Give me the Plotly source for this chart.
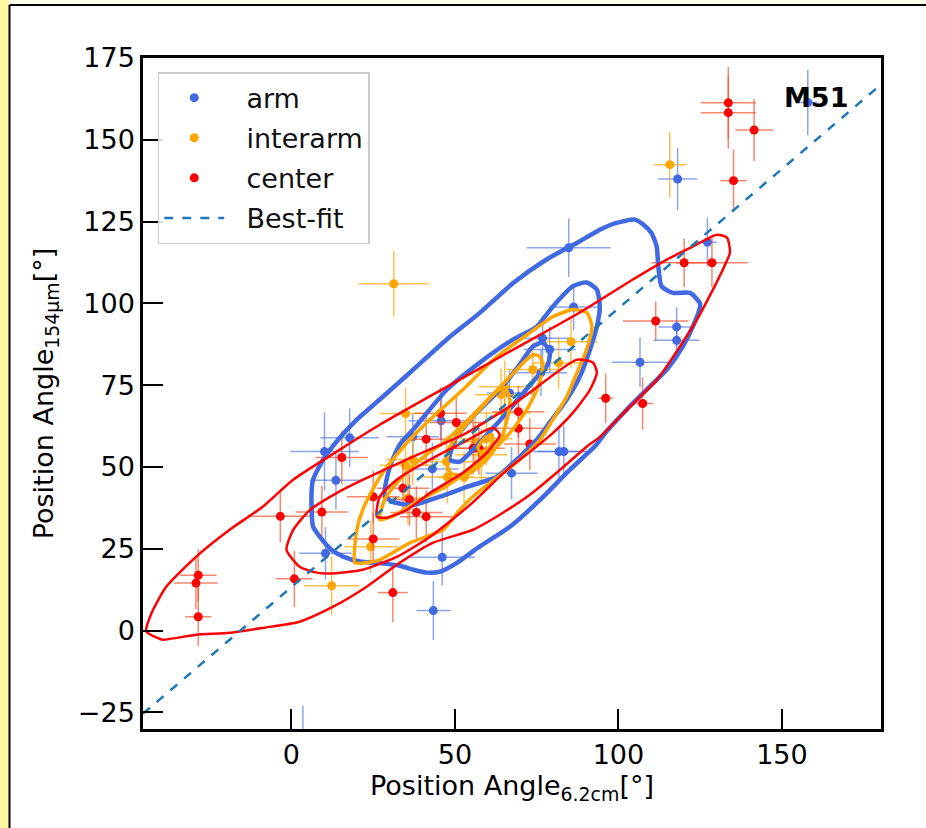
import plotly.graph_objects as go

# ---------------- data ----------------
arm_x = [157.9, 118.1, 127.2, 117.8, 117.8, 106.6, 84.8, 86.3, 76.8, 79.0, 76.3, 66.7, 45.8, 37.1, 10.1, 17.8, 13.6, 43.1, 67.3, 81.8, 83.3, 10.4, 46.1, 43.4, 3.5]
arm_y = [161.4, 138.0, 118.7, 92.8, 88.7, 82.0, 117.0, 98.9, 89.3, 85.9, 78.8, 72.6, 64.1, 59.2, 54.7, 58.9, 45.9, 49.4, 48.1, 54.7, 54.7, 23.6, 22.4, 6.1, -40.0]
arm_xerr = [3, 6, 3, 5.6, 7, 8.7, 12.8, 7.6, 8, 8, 8, 7, 10, 8, 10.5, 9, 8, 8, 8, 8, 8, 8, 10, 5.2, 3]
arm_yerr = [10, 9.5, 7.4, 6, 6, 7.6, 9, 7, 7, 7, 7, 7, 8, 7, 12, 9, 9, 8, 8, 8, 8, 8, 8.6, 9, 17]

inter_x = [115.7, 31.3, 85.5, 81.7, 73.8, 65.2, 64.1, 65.2, 34.9, 59.6, 56.2, 58.1, 47.4, 47.7, 52.8, 34.9, 37.1, 35.6, 24.2, 12.3]
inter_y = [142.4, 106.0, 88.3, 81.8, 79.8, 74.5, 72.1, 66.5, 66.3, 58.6, 57.7, 53.7, 51.6, 46.9, 46.8, 50.5, 52.3, 40.5, 25.6, 13.7]
inter_xerr = [5, 10.7, 8, 8, 8, 8, 8, 8, 8, 8, 8, 8, 8, 8, 8, 8, 8, 8, 8, 8.4]
inter_yerr = [10, 10, 8, 8, 8, 8, 8, 8, 8, 8, 8, 8, 8, 8, 8, 8, 8, 8, 8, 9]

cen_x = [133.6, 133.6, 141.5, 135.2, 120.1, 128.6, 111.4, 96.1, 107.4, 69.4, 69.4, 72.9, 45.6, 50.4, 41.2, 15.4, 55.6, 57.3, 34.1, 36.1, 38.2, 41.2, 25.0, 9.3, -3.4, 25.0, 0.9, 31.0, -28.5, -29.2, -28.5]
cen_y = [161.3, 158.3, 153.0, 137.5, 112.4, 112.4, 94.6, 71.0, 69.4, 66.9, 61.8, 57.0, 66.4, 63.6, 58.5, 52.9, 55.7, 55.7, 43.5, 40.0, 36.1, 34.8, 40.9, 36.2, 34.9, 28.0, 15.8, 11.6, 16.9, 14.5, 4.2]
cen_xerr = [8.4, 8.4, 5.8, 4, 10, 11, 10, 2.3, 3.3, 8, 8, 8, 8, 8, 8, 8, 8, 8, 8, 8, 8, 8, 8, 8, 9.5, 8, 5.6, 4.6, 5.6, 6.7, 4]
cen_yerr = [11, 11, 9.5, 9.5, 7.4, 7.4, 6, 7.6, 8, 8, 8, 8, 8, 8, 8, 8, 8, 8, 8, 8, 8, 8, 8, 8, 8, 8, 8.6, 9, 8, 8, 9]

fit_x = [-45.4, 180.3]
fit_y = [-25.4, 166.9]

# density contours (data coordinates)
blue_outer_x = [8.66, 6.61, 6.12, 6.61, 9.67, 14.26, 19.9, 27.0, 37.2, 47.4, 57.6, 67.8, 78.0, 88.2, 94.3, 99.4, 105.0, 107.6, 110.1, 111.7, 112.2, 113.2, 116.7, 121.9, 124.9, 124.9, 122.8, 119.7, 114.7, 108.6, 102.5, 96.4, 92.8, 85.1, 76.0, 66.8, 57.6, 50.5, 45.4, 41.3, 37.2, 33.1, 27.0, 20.9, 15.8, 12.2, 8.66]
blue_outer_y = [28.7, 31.8, 41.0, 46.1, 52.2, 58.3, 64.4, 70.6, 79.7, 88.9, 97.1, 106.2, 113.4, 119.0, 122.5, 124.6, 125.6, 124.1, 121.5, 117.4, 111.3, 105.2, 103.2, 103.2, 100.1, 98.7, 93.0, 86.9, 79.7, 73.6, 67.5, 60.9, 56.3, 49.1, 39.9, 31.7, 25.7, 20.6, 18.0, 17.7, 18.6, 19.8, 20.6, 21.1, 22.6, 24.7, 28.7]
blue_mid_x = [28.5, 30.1, 33.1, 37.2, 47.5, 57.6, 67.7, 75.0, 79.9, 86.0, 90.3, 93.4, 94.3, 93.4, 91.3, 88.2, 84.2, 79.0, 75.0, 69.8, 62.8, 53.6, 45.4, 37.1, 30.7, 28.5]
blue_mid_y = [41.5, 50.1, 56.8, 61.4, 73.6, 81.9, 88.9, 92.9, 99.0, 105.2, 106.4, 104.2, 99.0, 92.9, 85.9, 77.6, 70.6, 63.6, 58.3, 53.1, 47.0, 43.9, 40.9, 38.4, 39.4, 41.5]
blue_in_x = [48.4, 50.0, 56.1, 63.7, 69.8, 73.8, 76.9, 79.0, 78.4, 74.4, 69.8, 65.3, 60.7, 56.1, 51.5, 48.4]
blue_in_y = [52.2, 58.3, 66.0, 73.6, 81.3, 86.8, 88.0, 85.2, 81.3, 76.7, 71.3, 66.0, 60.8, 55.9, 51.6, 52.2]

orange_outer_x = [19.4, 19.4, 20.3, 21.8, 24.0, 27.9, 35.3, 42.3, 52.4, 62.8, 72.9, 79.9, 86.1, 90.3, 91.9, 90.3, 87.3, 84.2, 79.9, 76.0, 69.8, 62.8, 56.1, 51.5, 46.3, 36.2, 27.0, 22.4, 19.4]
orange_outer_y = [20.7, 26.2, 32.3, 36.9, 41.5, 48.2, 57.4, 64.4, 73.6, 83.7, 91.0, 95.9, 98.1, 97.2, 92.9, 85.9, 78.8, 71.5, 64.4, 58.3, 52.2, 46.7, 41.5, 36.9, 30.8, 26.8, 21.6, 20.7, 20.7]
orange_mid_x = [27.0, 28.5, 33.1, 39.3, 47.5, 55.5, 65.9, 73.8, 76.0, 76.9, 75.4, 72.0, 66.8, 60.7, 54.5, 46.9, 39.3, 31.6, 27.0]
orange_mid_y = [33.9, 40.0, 46.1, 52.2, 58.3, 65.9, 76.6, 84.3, 83.7, 80.6, 74.5, 67.5, 60.4, 54.3, 49.1, 43.9, 39.9, 35.3, 33.9]
orange_in_x = [47.5, 48.4, 52.1, 57.6, 62.8, 65.3, 66.8, 65.9, 63.7, 59.1, 53.6, 49.0, 47.5]
orange_in_y = [50.7, 55.9, 61.4, 67.6, 73.0, 74.2, 70.6, 64.4, 57.7, 51.6, 47.6, 47.9, 50.7]
orange_core_x = [57.0, 59.2, 61.3, 61.6, 59.8, 57.6, 57.0]
orange_core_y = [55.9, 59.0, 59.9, 57.7, 55.3, 54.7, 55.9]

red_outer_x = [-44.4, -42.8, -38.2, -29.1, -18.9, -8.7, 0.5, 14.8, 27.0, 47.5, 67.7, 88.2, 104.4, 114.8, 122.8, 130.1, 133.2, 134.1, 131.9, 128.9, 124.0, 118.8, 111.8, 103.5, 94.3, 90.3, 82.1, 72.9, 63.7, 55.5, 43.2, 33.1, 23.0, 12.6, 2.5, -8.8, -18.9, -29.0, -39.4, -41.2, -44.4]
red_outer_y = [-0.3, 5.3, 13.5, 22.6, 30.8, 37.9, 46.1, 55.3, 62.9, 74.5, 85.8, 97.2, 107.3, 113.4, 117.4, 121.0, 120.1, 115.5, 110.3, 104.2, 95.0, 86.8, 76.7, 68.4, 59.2, 56.2, 49.1, 41.5, 35.4, 30.8, 26.8, 20.7, 13.4, 7.2, 2.7, 0.8, -0.7, -1.3, -2.8, -2.2, -0.3]
red_mid_x = [-1.5, 0.5, 5.6, 13.8, 21.9, 37.1, 52.4, 69.8, 87.3, 92.2, 93.4, 91.3, 86.1, 80.0, 73.8, 65.9, 54.6, 42.3, 32.2, 21.8, 11.7, 7.7, 2.5, -1.5]
red_mid_y = [24.7, 30.7, 36.8, 42.0, 46.1, 53.1, 59.8, 70.5, 82.8, 81.9, 78.8, 73.6, 66.6, 60.4, 55.3, 49.1, 38.4, 28.6, 22.5, 18.6, 17.4, 17.7, 19.5, 24.7]
red_in_x = [26.1, 27.0, 32.2, 42.3, 52.4, 61.6, 63.7, 59.7, 52.4, 42.3, 35.3, 29.2, 26.1]
red_in_y = [34.8, 40.9, 46.1, 52.2, 57.4, 62.0, 59.8, 54.3, 48.2, 42.0, 36.9, 34.5, 34.8]

label_text = "M51"
label_x = 160.4
label_y = 162.9

# ---------------- figure ----------------
BLUE = "#4169E1"
ORANGE = "#FFA500"
RED = "#FF0000"
FIT = "#1f77b4"
FONT = "DejaVu Sans"
PAD = "\u00a0\u00a0"

fig = go.Figure()

def pts(name, x, y, ex, ey, color, ecolor):
    fig.add_trace(go.Scatter(
        x=x, y=y, mode="markers", name=PAD + name, legendgroup=name,
        marker=dict(color=color, size=9),
        error_x=dict(type="data", array=ex, visible=True, color=ecolor, thickness=1.5, width=0),
        error_y=dict(type="data", array=ey, visible=True, color=ecolor, thickness=1.5, width=0),
    ))

pts("arm", arm_x, arm_y, arm_xerr, arm_yerr, BLUE, "rgba(65,105,225,0.6)")
pts("interarm", inter_x, inter_y, inter_xerr, inter_yerr, ORANGE, "rgba(255,165,0,0.7)")
pts("center", cen_x, cen_y, cen_xerr, cen_yerr, RED, "rgba(245,70,30,0.65)")

def contour(x, y, color, w):
    fig.add_trace(go.Scatter(x=x, y=y, mode="lines", showlegend=False, hoverinfo="skip",
                             line=dict(color=color, width=w, shape="spline", smoothing=0.6)))

contour(blue_outer_x, blue_outer_y, BLUE, 4.5)
contour(blue_mid_x, blue_mid_y, BLUE, 4.5)
contour(blue_in_x, blue_in_y, BLUE, 4.5)
contour(orange_outer_x, orange_outer_y, ORANGE, 3.5)
contour(orange_mid_x, orange_mid_y, ORANGE, 3.5)
contour(orange_in_x, orange_in_y, ORANGE, 3.5)
contour(orange_core_x, orange_core_y, ORANGE, 3.5)
contour(red_outer_x, red_outer_y, RED, 2.5)
contour(red_mid_x, red_mid_y, RED, 2.5)
contour(red_in_x, red_in_y, RED, 2.5)

fig.add_trace(go.Scatter(x=fit_x, y=fit_y, mode="lines", name=PAD + "Best-fit", legendgroup="fit",
                         line=dict(color=FIT, width=2.5, dash="dash")))

fig.add_annotation(x=label_x, y=label_y, text="<b>" + label_text + "</b>", showarrow=False,
                   font=dict(family=FONT, size=27, color="black"), xanchor="center", yanchor="middle")

# page decorations (yellow strip / black frame of the slide)
L, R, T, B = 143, 45, 58, 99
PW, PH = 926 - L - R, 828 - T - B
def px(v): return (v - L) / PW
def py(v): return (828 - B - v) / PH
fig.add_shape(type="rect", xref="paper", yref="paper", x0=px(0), x1=px(9), y0=py(828), y1=py(0),
              fillcolor="#FFF8A0", line_width=0, layer="below")
fig.add_shape(type="rect", xref="paper", yref="paper", x0=px(9), x1=px(926), y0=py(5), y1=py(0),
              fillcolor="#FFFBE6", line_width=0, layer="below")
fig.add_shape(type="line", xref="paper", yref="paper", x0=px(9.5), x1=px(9.5), y0=py(828), y1=py(5),
              line=dict(color="black", width=2))
fig.add_shape(type="line", xref="paper", yref="paper", x0=px(9.5), x1=px(926), y0=py(5), y1=py(5),
              line=dict(color="black", width=2))

axis_common = dict(showgrid=False, zeroline=False, showline=True, linecolor="black", linewidth=2.5,
                   mirror=True, ticks="inside", ticklen=20, tickwidth=2, tickcolor="black",
                   tickfont=dict(family=FONT, size=27, color="black"))

fig.update_layout(
    width=926, height=828,
    margin=dict(l=L, r=R, t=T, b=B),
    paper_bgcolor="white", plot_bgcolor="white",
    font=dict(family=FONT, color="black"),
    xaxis=dict(range=[-45.4, 180.3], tickvals=[0, 50, 100, 150], ticktext=["0", "50", "100", "150"],
               title=dict(text="Position Angle<sub>6.2cm</sub>[°]", font=dict(family=FONT, size=27), standoff=7),
               **axis_common),
    yaxis=dict(range=[-30.1, 175.0], tickvals=[-25, 0, 25, 50, 75, 100, 125, 150, 175],
               ticktext=["\u221225", "0", "25", "50", "75", "100", "125", "150", "175"],
               title=dict(text="Position Angle<sub>154\u03bcm</sub>[°]", font=dict(family=FONT, size=27), standoff=17),
               **axis_common),
    legend=dict(x=0.02, y=0.979, xanchor="left", yanchor="top", bgcolor="rgba(255,255,255,0.85)",
                bordercolor="#CCCCCC", borderwidth=1.5, font=dict(family=FONT, size=27, color="#111111"),
                tracegroupgap=2, itemwidth=60),
    showlegend=True,
)

fig.write_html("out.html", config={"displayModeBar": False},
               post_script="document.body.style.margin='0px';")
